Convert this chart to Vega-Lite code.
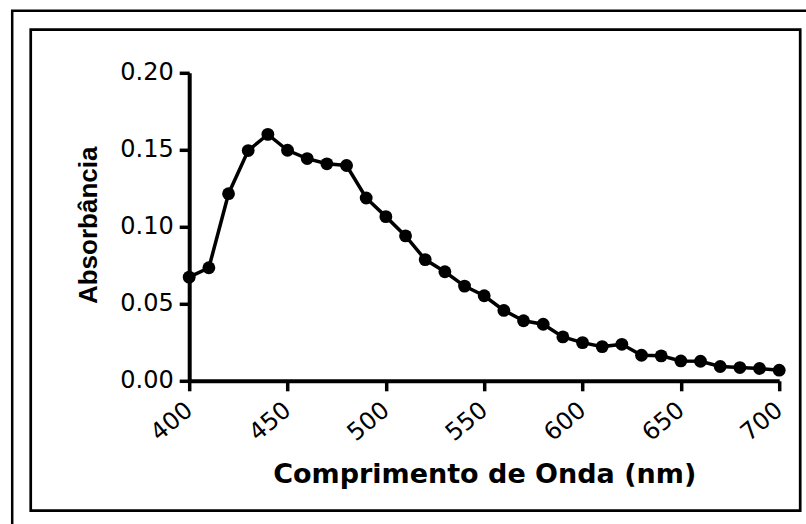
{
  "$schema": "https://vega.github.io/schema/vega-lite/v6.json",
  "width": 590,
  "height": 308,
  "autosize": {"type": "none"},
  "padding": {"left": 189.2, "top": 72.8, "right": 26.8, "bottom": 143.2},
  "background": "white",
  "config": {
    "view": {"stroke": null},
    "axis": {"grid": false, "domainColor": "black", "tickColor": "black", "labelColor": "black", "titleColor": "black"}
  },
  "layer": [
    {
      "data": {"values": [{}]},
      "mark": {"type": "rect", "fillOpacity": 0, "stroke": "black", "strokeWidth": 2.5, "clip": false},
      "encoding": {
        "x": {"datum": 310.0, "type": "quantitative",
          "scale": {"domain": [400, 700], "nice": false, "zero": false},
          "axis": {"title": "Comprimento de Onda (nm)", "values": [400, 450, 500, 550, 600, 650, 700], "format": "d", "domainWidth": 4, "tickWidth": 3.5, "tickSize": 10, "labelFont": "DejaVu Sans", "labelFontSize": 24, "labelAngle": -40, "labelAlign": "right", "labelBaseline": "middle", "labelPadding": 16, "labelFlush": false, "labelOverlap": false, "titleFont": "DejaVu Sans", "titleFontWeight": "bold", "titleFontSize": 27, "titleBaseline": "alphabetic", "titleY": 102, "titleX": 295}},
        "x2": {"datum": 720},
        "y": {"datum": 0.2403, "type": "quantitative",
          "scale": {"domain": [0, 0.2], "nice": false, "zero": false},
          "axis": {"title": "Absorbância", "values": [0, 0.05, 0.1, 0.15, 0.2], "format": ".2f", "domainWidth": 4, "tickWidth": 3.5, "tickSize": 10, "labelFont": "DejaVu Sans", "labelFontSize": 24, "labelPadding": 6, "labelFlush": false, "labelOverlap": false, "titleFont": "Liberation Sans", "titleFontWeight": "bold", "titleFontSize": 26, "titleAngle": 270, "titleAlign": "center", "titleBaseline": "alphabetic", "titleX": -93, "titleY": 152}},
        "y2": {"datum": -0.1}
      }
    },
    {
      "data": {"values": [{}]},
      "mark": {"type": "rect", "fillOpacity": 0, "stroke": "black", "strokeWidth": 2.7, "clip": false},
      "encoding": {
        "x": {"datum": 319.42, "type": "quantitative",
          "scale": {"domain": [400, 700], "nice": false, "zero": false},
          "axis": {"title": "Comprimento de Onda (nm)", "values": [400, 450, 500, 550, 600, 650, 700], "format": "d", "domainWidth": 4, "tickWidth": 3.5, "tickSize": 10, "labelFont": "DejaVu Sans", "labelFontSize": 24, "labelAngle": -40, "labelAlign": "right", "labelBaseline": "middle", "labelPadding": 16, "labelFlush": false, "labelOverlap": false, "titleFont": "DejaVu Sans", "titleFontWeight": "bold", "titleFontSize": 27, "titleBaseline": "alphabetic", "titleY": 102, "titleX": 295}},
        "x2": {"datum": 710.68},
        "y": {"datum": 0.228, "type": "quantitative",
          "scale": {"domain": [0, 0.2], "nice": false, "zero": false},
          "axis": {"title": "Absorbância", "values": [0, 0.05, 0.1, 0.15, 0.2], "format": ".2f", "domainWidth": 4, "tickWidth": 3.5, "tickSize": 10, "labelFont": "DejaVu Sans", "labelFontSize": 24, "labelPadding": 6, "labelFlush": false, "labelOverlap": false, "titleFont": "Liberation Sans", "titleFontWeight": "bold", "titleFontSize": 26, "titleAngle": 270, "titleAlign": "center", "titleBaseline": "alphabetic", "titleX": -93, "titleY": 152}},
        "y2": {"datum": -0.0843}
      }
    },
    {
      "data": {
        "values": [
          {"wavelength": 400, "absorbance": 0.0673},
          {"wavelength": 410, "absorbance": 0.0734},
          {"wavelength": 420, "absorbance": 0.1215},
          {"wavelength": 430, "absorbance": 0.1495},
          {"wavelength": 440, "absorbance": 0.1600},
          {"wavelength": 450, "absorbance": 0.1497},
          {"wavelength": 460, "absorbance": 0.1443},
          {"wavelength": 470, "absorbance": 0.1409},
          {"wavelength": 480, "absorbance": 0.1398},
          {"wavelength": 490, "absorbance": 0.1187},
          {"wavelength": 500, "absorbance": 0.1066},
          {"wavelength": 510, "absorbance": 0.0941},
          {"wavelength": 520, "absorbance": 0.0787},
          {"wavelength": 530, "absorbance": 0.0708},
          {"wavelength": 540, "absorbance": 0.0615},
          {"wavelength": 550, "absorbance": 0.0552},
          {"wavelength": 560, "absorbance": 0.0457},
          {"wavelength": 570, "absorbance": 0.0390},
          {"wavelength": 580, "absorbance": 0.0367},
          {"wavelength": 590, "absorbance": 0.0285},
          {"wavelength": 600, "absorbance": 0.0248},
          {"wavelength": 610, "absorbance": 0.0222},
          {"wavelength": 620, "absorbance": 0.0237},
          {"wavelength": 630, "absorbance": 0.0166},
          {"wavelength": 640, "absorbance": 0.0162},
          {"wavelength": 650, "absorbance": 0.0129},
          {"wavelength": 660, "absorbance": 0.0127},
          {"wavelength": 670, "absorbance": 0.0093},
          {"wavelength": 680, "absorbance": 0.0086},
          {"wavelength": 690, "absorbance": 0.0080},
          {"wavelength": 700, "absorbance": 0.0069}
        ]
      },
      "encoding": {
        "x": {"field": "wavelength", "type": "quantitative",
          "scale": {"domain": [400, 700], "nice": false, "zero": false},
          "axis": {"title": "Comprimento de Onda (nm)", "values": [400, 450, 500, 550, 600, 650, 700], "format": "d", "domainWidth": 4, "tickWidth": 3.5, "tickSize": 10, "labelFont": "DejaVu Sans", "labelFontSize": 24, "labelAngle": -40, "labelAlign": "right", "labelBaseline": "middle", "labelPadding": 16, "labelFlush": false, "labelOverlap": false, "titleFont": "DejaVu Sans", "titleFontWeight": "bold", "titleFontSize": 27, "titleBaseline": "alphabetic", "titleY": 102, "titleX": 295}},
        "y": {"field": "absorbance", "type": "quantitative",
          "scale": {"domain": [0, 0.2], "nice": false, "zero": false},
          "axis": {"title": "Absorbância", "values": [0, 0.05, 0.1, 0.15, 0.2], "format": ".2f", "domainWidth": 4, "tickWidth": 3.5, "tickSize": 10, "labelFont": "DejaVu Sans", "labelFontSize": 24, "labelPadding": 6, "labelFlush": false, "labelOverlap": false, "titleFont": "Liberation Sans", "titleFontWeight": "bold", "titleFontSize": 26, "titleAngle": 270, "titleAlign": "center", "titleBaseline": "alphabetic", "titleX": -93, "titleY": 152}}
      },
      "layer": [
        {"mark": {"type": "line", "color": "black", "strokeWidth": 3.5, "clip": false}},
        {"mark": {"type": "point", "filled": true, "color": "black", "opacity": 1, "size": 165, "clip": false}}
      ]
    }
  ]
}
